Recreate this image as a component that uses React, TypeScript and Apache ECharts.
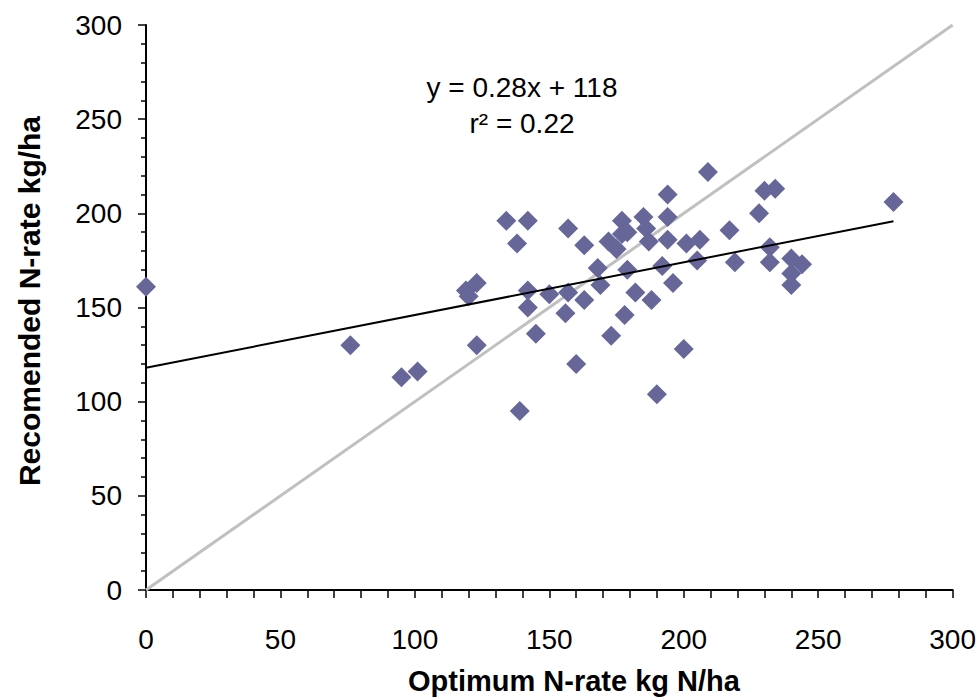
import React, { useEffect, useRef } from "react";
import * as echarts from "echarts";

const optimumRate: number[] = [
  0, 76, 95, 101, 119, 123, 120, 123, 134, 142,
  138, 142, 142, 145, 150, 157, 156, 157, 163, 160,
  139, 163, 168, 169, 173, 178, 179, 182, 188, 190,
  192, 196, 200, 194, 194, 194, 209, 201, 206, 205,
  217, 219, 228, 230, 234, 232, 232, 240, 244, 240,
  240, 278, 177, 185, 186, 172, 175, 177, 187, 179,
];
const recommendedRate: number[] = [
  161, 130, 113, 116, 159, 163, 156, 130, 196, 196,
  184, 159, 150, 136, 157, 158, 147, 192, 183, 120,
  95, 154, 171, 162, 135, 146, 170, 158, 154, 104,
  172, 163, 128, 210, 198, 186, 222, 184, 186, 175,
  191, 174, 200, 212, 213, 182, 174, 176, 173, 168,
  162, 206, 196, 198, 192, 185, 181, 189, 185, 190,
];
const oneToOneX: number[] = [0, 300];
const trendSlope = 0.28;
const trendIntercept = 118;
const equationLines: string[] = ["y = 0.28x + 118", "r² = 0.22"];
const xTitle = "Optimum N-rate kg N/ha";
const yTitle = "Recomended N-rate kg/ha";

const FONT = "'Liberation Sans', Arial, Helvetica, sans-serif";

export default function App() {
  const ref = useRef<HTMLDivElement>(null);
  useEffect(() => {
    if (!ref.current) return;
    const chart = echarts.init(ref.current, undefined, { renderer: "svg" });
    const scatterData = optimumRate.map((x, i) => [x, recommendedRate[i]]);
    const maxX = Math.max(...optimumRate);
    const trendData = [
      [0, trendIntercept],
      [maxX, trendSlope * maxX + trendIntercept],
    ];
    const oneToOne = oneToOneX.map((v) => [v, v]);
    const textGraphics: any[] = equationLines.map((t, i) => ({
      type: "text",
      x: 522,
      y: 87 + i * 36,
      style: {
        text: t,
        fontFamily: FONT,
        fontSize: 28,
        fill: "#000",
        textAlign: "center",
        textVerticalAlign: "middle",
      },
      z: 10,
    }));
    textGraphics.push({
      type: "text",
      x: 574,
      y: 681,
      style: {
        text: xTitle,
        fontFamily: FONT,
        fontSize: 29,
        fontWeight: "bold",
        fill: "#000",
        textAlign: "center",
        textVerticalAlign: "middle",
      },
    });
    textGraphics.push({
      type: "text",
      x: 29,
      y: 301,
      rotation: Math.PI / 2,
      style: {
        text: yTitle,
        fontFamily: FONT,
        fontSize: 30,
        fontWeight: "bold",
        fill: "#000",
        textAlign: "center",
        textVerticalAlign: "middle",
      },
    });
    chart.setOption({
      animation: false,
      backgroundColor: "#ffffff",
      grid: { left: 146, right: 25, top: 25, bottom: 110, containLabel: false },
      xAxis: {
        type: "value",
        min: 0,
        max: 300,
        interval: 50,
        axisLine: { show: true, lineStyle: { color: "#000", width: 2 } },
        axisTick: { show: true, inside: false, length: 8, lineStyle: { color: "#000", width: 1.5 } },
        minorTick: { show: true, splitNumber: 5, length: 8, lineStyle: { color: "#000", width: 1.5 } },
        axisLabel: { fontFamily: FONT, fontSize: 28, color: "#000", margin: 35 },
        splitLine: { show: false },
      },
      yAxis: {
        type: "value",
        min: 0,
        max: 300,
        interval: 50,
        axisLine: { show: true, lineStyle: { color: "#000", width: 2 } },
        axisTick: { show: true, inside: false, length: 8, lineStyle: { color: "#000", width: 1.5 } },
        minorTick: { show: true, splitNumber: 5, length: 5, lineStyle: { color: "#000", width: 1.5 } },
        axisLabel: { fontFamily: FONT, fontSize: 28, color: "#000", margin: 24 },
        splitLine: { show: false },
      },
      graphic: textGraphics,
      series: [
        {
          type: "line",
          data: oneToOne,
          symbol: "none",
          lineStyle: { color: "#c0c0c0", width: 3 },
          silent: true,
          z: 1,
        },
        {
          type: "scatter",
          data: scatterData,
          symbol: "diamond",
          symbolSize: 20,
          itemStyle: { color: "#666699", opacity: 1 },
          z: 2,
        },
        {
          type: "line",
          data: trendData,
          symbol: "none",
          lineStyle: { color: "#000", width: 2 },
          silent: true,
          z: 3,
        },
      ],
    });
    return () => chart.dispose();
  }, []);
  return (
    <div
      ref={ref}
      style={{ position: "absolute", left: 0, top: 0, width: 979, height: 700, background: "#fff" }}
    />
  );
}
